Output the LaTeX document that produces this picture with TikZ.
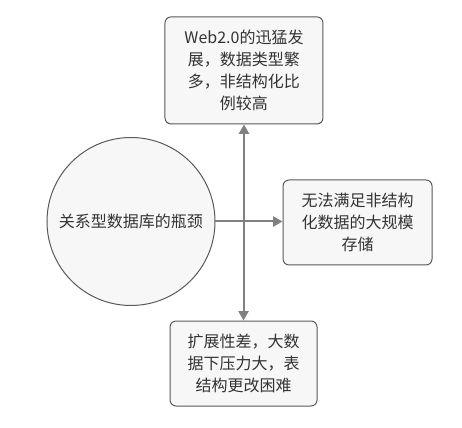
\documentclass[tikz,border=0pt]{standalone}
\usepackage{fontspec}
\newfontfamily\cjk{Noto Sans CJK SC}
\usetikzlibrary{arrows.meta}
\definecolor{lnc}{HTML}{808080}
\definecolor{bdc}{HTML}{595959}
\definecolor{fic}{HTML}{F7F7F7}
\definecolor{txc}{HTML}{333333}
\begin{document}
\begin{tikzpicture}[node distance=2cm,font=\cjk\fontsize{12pt}{16.3pt}\selectfont]
\tikzset{bx/.style={rectangle,rounded corners=4.5pt,draw=bdc,fill=fic,line width=0.75pt,text=txc,align=center,inner sep=0pt},
  ln/.style={draw=lnc,line width=1.5pt,-{Triangle[width=7.5pt,length=7pt]}}}
\useasboundingbox (-98.25pt,-154.875pt) rectangle (248.25pt,166.125pt);
\node[circle,draw=bdc,fill=fic,line width=0.75pt,text=txc,minimum size=126pt,inner sep=0pt] (c) {关系型数据库的瓶颈};
\node[bx,minimum width=118.5pt,minimum height=80.25pt,above of=c,xshift=84.75pt,yshift=56.4pt] (web) {Web2.0的迅猛发\\展，数据类型繁\\多，非结构化比\\例较高};
\node[bx,minimum width=111.75pt,minimum height=63.75pt,right of=c,xshift=113pt,yshift=-0.75pt] (st) {无法满足非结构\\化数据的大规模\\存储};
\node[bx,minimum width=110.25pt,minimum height=63.75pt,below of=c,xshift=84.4pt,yshift=-49.6pt] (ext) {扩展性差，大数\\据下压力大，表\\结构更改困难};
\draw[ln] (c.east) -| (web.south);
\draw[ln] (c.east) -| (ext.north);
\draw[ln] (c.east) -- (c.east -| st.west);
\end{tikzpicture}
\end{document}
